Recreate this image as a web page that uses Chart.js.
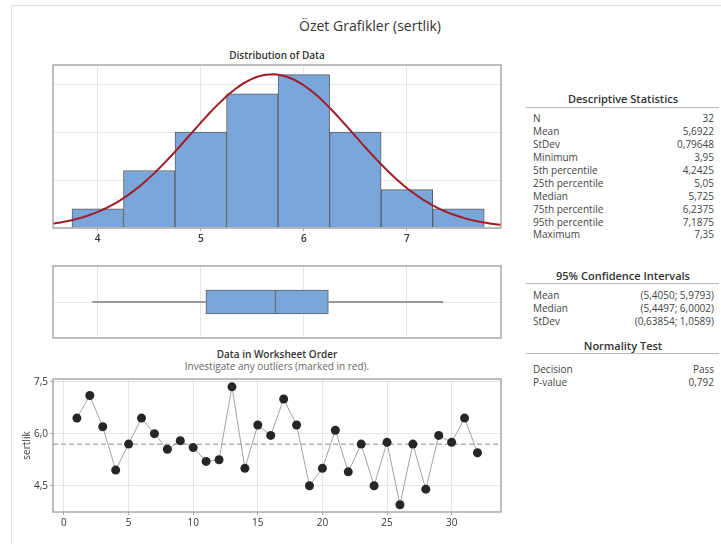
<!DOCTYPE html>
<html>
<head>
<meta charset="utf-8">
<script src="https://cdn.jsdelivr.net/npm/chart.js@4.4.1/dist/chart.umd.min.js"></script>
<style>
  body { margin: 0; background: #fff; font-family: "Open Sans", sans-serif; }
  #page { position: relative; width: 721px; height: 544px; overflow: hidden; }
  .outer { position: absolute; left: 11px; top: 5px; width: 720px; height: 600px;
           border-left: 1px solid #e2e2e2; border-top: 1px solid #e2e2e2; }
  canvas { position: absolute; }
  .t { position: absolute; white-space: nowrap; height: 14px; line-height: 14px; }
  .c { transform: translateX(-50%); }
  .hl { position: absolute; height: 0; border-top: 1.5px solid #b8b8b8; }
</style>
</head>
<body>
<div id="page">
  <div class="outer"></div>
  <div class="t c" style="left:370px;top:19px;font-size:14px;color:#333;">Özet Grafikler (sertlik)</div>
  <div class="t c" style="left:277px;top:48px;font-size:10px;font-weight:600;color:#333;">Distribution of Data</div>
  <div class="t c" style="left:277px;top:347px;font-size:10px;font-weight:600;color:#333;">Data in Worksheet Order</div>
  <div class="t c" style="left:277px;top:359px;font-size:10px;color:#666;">Investigate any outliers (marked in red).</div>
  <canvas id="hist" width="520" height="190" style="left:0;top:60px;"></canvas>
  <canvas id="box" width="520" height="85" style="left:0;top:260px;"></canvas>
  <canvas id="ts" width="520" height="174" style="left:0;top:370px;"></canvas>
  <div id="tables"></div>
</div>
<script>
// histogram bins (centres) and counts
var binCenters = [4.0, 4.5, 5.0, 5.5, 6.0, 6.5, 7.0, 7.5];
var binCounts = [1, 3, 5, 7, 8, 5, 2, 1];
var binWidth = 0.5;

// the measurements, in worksheet order
var sertlik = [6.45, 7.10, 6.20, 4.95, 5.70, 6.45, 6.00, 5.55, 5.80, 5.60,
               5.20, 5.25, 7.35, 5.00, 6.25, 5.95, 7.00, 6.25, 4.50, 5.00,
               6.10, 4.90, 5.70, 4.50, 5.75, 3.95, 5.70, 4.40, 5.95, 5.75,
               6.45, 5.45];

var mean = 5.6922, stdev = 0.79648;
var minimum = 3.95, q1 = 5.05, median = 5.725, q3 = 6.2375, maximum = 7.35;

var descLabels = ['N', 'Mean', 'StDev', 'Minimum', '5th percentile', '25th percentile',
                  'Median', '75th percentile', '95th percentile', 'Maximum'];
var descValues = ['32', '5,6922', '0,79648', '3,95', '4,2425', '5,05', '5,725', '6,2375', '7,1875', '7,35'];
var ciLabels = ['Mean', 'Median', 'StDev'];
var ciValues = ['(5,4050; 5,9793)', '(5,4497; 6,0002)', '(0,63854; 1,0589)'];
var normLabels = ['Decision', 'P-value'];
var normValues = ['Pass', '0,792'];

var FONT = '"Open Sans", sans-serif';
var gridCol = '#e6e6e6';
var xMin = 3.566, xMax = 7.913;

var framePlugin = {
  id: 'frame',
  afterDatasetsDraw: function (chart) {
    var a = chart.chartArea, ctx = chart.ctx;
    ctx.save();
    ctx.strokeStyle = '#a9a9a9';
    ctx.lineWidth = 1.5;
    ctx.strokeRect(a.left, a.top, a.right - a.left, a.bottom - a.top);
    ctx.restore();
  }
};

// fitted normal curve, scaled to counts
var curve = [];
var n = sertlik.length;
for (var i = 0; i <= 120; i++) {
  var x = xMin + (xMax - xMin) * i / 120;
  var z = (x - mean) / stdev;
  curve.push({ x: x, y: n * binWidth * Math.exp(-0.5 * z * z) / (stdev * Math.sqrt(2 * Math.PI)) });
}

new Chart(document.getElementById('hist'), {
  type: 'bar',
  data: {
    datasets: [
      { type: 'line', data: curve, borderColor: '#a11d2a', borderWidth: 2, pointRadius: 0 },
      { type: 'bar', data: binCenters.map(function (c, i) { return { x: c, y: binCounts[i] }; }),
        backgroundColor: '#7ba6d9', borderColor: '#5a5f66', borderWidth: 1,
        barPercentage: 1, categoryPercentage: 1 }
    ]
  },
  options: {
    animation: false, responsive: false,
    plugins: { legend: { display: false }, tooltip: { enabled: false } },
    layout: { padding: { left: 53, right: 19, top: 5, bottom: 0 } },
    scales: {
      x: { type: 'linear', min: xMin, max: xMax, offset: false,
           grid: { color: gridCol, offset: false, tickLength: 3, tickColor: '#a9a9a9' },
           border: { display: false },
           ticks: { stepSize: 1, includeBounds: false, color: '#333', padding: 2,
                    font: { family: FONT, size: 10, weight: 600 } },
           afterFit: function (s) { s.height = 22; } },
      y: { type: 'linear', min: 0, max: 8.5,
           ticks: { display: false, stepSize: 2.5, includeBounds: false },
           grid: { color: gridCol, drawTicks: false }, border: { display: false },
           afterFit: function (s) { s.width = 0; } }
    }
  },
  plugins: [framePlugin]
});

new Chart(document.getElementById('box'), {
  type: 'bar',
  data: {
    labels: ['sertlik'],
    datasets: [
      { data: [[minimum, q1]], barThickness: 1.5, backgroundColor: '#9a9a9a', borderWidth: 0, grouped: false },
      { data: [[q3, maximum]], barThickness: 1.5, backgroundColor: '#9a9a9a', borderWidth: 0, grouped: false },
      { data: [[q1, median]], barThickness: 24, backgroundColor: '#7ba6d9', borderColor: '#5a5f66',
        borderWidth: 1, borderSkipped: false, grouped: false },
      { data: [[median, q3]], barThickness: 24, backgroundColor: '#7ba6d9', borderColor: '#5a5f66',
        borderWidth: 1, borderSkipped: false, grouped: false }
    ]
  },
  options: {
    indexAxis: 'y', animation: false, responsive: false,
    plugins: { legend: { display: false }, tooltip: { enabled: false } },
    layout: { padding: { left: 53, right: 19, top: 6, bottom: 7 } },
    scales: {
      x: { type: 'linear', min: xMin, max: xMax,
           ticks: { display: false, stepSize: 1, includeBounds: false },
           grid: { color: gridCol, drawTicks: false }, border: { display: false },
           afterFit: function (s) { s.height = 0; } },
      y: { ticks: { display: false }, grid: { color: gridCol, offset: false, drawTicks: false },
           border: { display: false },
           afterFit: function (s) { s.width = 0; } }
    }
  },
  plugins: [framePlugin]
});

var tsXMin = -0.85, tsXMax = 33.82;
new Chart(document.getElementById('ts'), {
  type: 'line',
  data: {
    datasets: [
      { data: sertlik.map(function (v, i) { return { x: i + 1, y: v }; }),
        borderColor: '#a3a3a3', borderWidth: 1, pointRadius: 4.5,
        pointBackgroundColor: '#262626', pointBorderColor: '#262626', pointBorderWidth: 0 },
      { data: [{ x: tsXMin, y: mean }, { x: tsXMax, y: mean }],
        borderColor: '#b0b0b0', borderWidth: 1.5, borderDash: [5, 3], pointRadius: 0 }
    ]
  },
  options: {
    animation: false, responsive: false,
    plugins: { legend: { display: false }, tooltip: { enabled: false } },
    layout: { padding: { left: 0, right: 19, top: 9, bottom: 0 } },
    scales: {
      x: { type: 'linear', min: tsXMin, max: tsXMax,
           grid: { color: gridCol, tickLength: 3, tickColor: '#a9a9a9' }, border: { display: false },
           ticks: { stepSize: 5, includeBounds: false, color: '#333', padding: 2,
                    font: { family: FONT, size: 10 } },
           afterFit: function (s) { s.height = 32; } },
      y: { type: 'linear', min: 3.742, max: 7.577,
           grid: { color: gridCol, tickLength: 3, tickColor: '#a9a9a9' }, border: { display: false },
           ticks: { stepSize: 1.5, includeBounds: false, color: '#333', padding: 2,
                    font: { family: FONT, size: 10 },
                    callback: function (v) { return v.toFixed(1).replace('.', ','); } },
           title: { display: true, text: 'sertlik', color: '#444', padding: { top: 21, bottom: 0 },
                    font: { family: FONT, size: 10 } },
           afterFit: function (s) { s.width = 53; } }
    }
  },
  plugins: [framePlugin]
});

// right-hand tables
var tables = document.getElementById('tables');
function addText(txt, style) {
  var d = document.createElement('div');
  d.className = 't';
  d.textContent = txt;
  d.setAttribute('style', style);
  tables.appendChild(d);
}
function addTable(title, cyTitle, cyLine, cyFirst, labels, values) {
  addText(title, 'left:623px;top:' + (cyTitle - 7) + 'px;font-size:11px;font-weight:600;color:#333;transform:translateX(-50%);');
  var hl = document.createElement('div');
  hl.className = 'hl';
  hl.setAttribute('style', 'left:526px;width:193px;top:' + cyLine + 'px;');
  tables.appendChild(hl);
  labels.forEach(function (l, i) {
    var cy = cyFirst + i * 12.9;
    addText(l, 'left:533px;top:' + (cy - 7) + 'px;font-size:10px;color:#444;');
    addText(values[i], 'right:7px;top:' + (cy - 7) + 'px;font-size:10px;color:#444;');
  });
}
addTable('Descriptive Statistics', 99, 106.5, 118.3, descLabels, descValues);
addTable('95% Confidence Intervals', 276, 283, 295, ciLabels, ciValues);
addTable('Normality Test', 346, 353, 369, normLabels, normValues);
</script>
</body>
</html>
